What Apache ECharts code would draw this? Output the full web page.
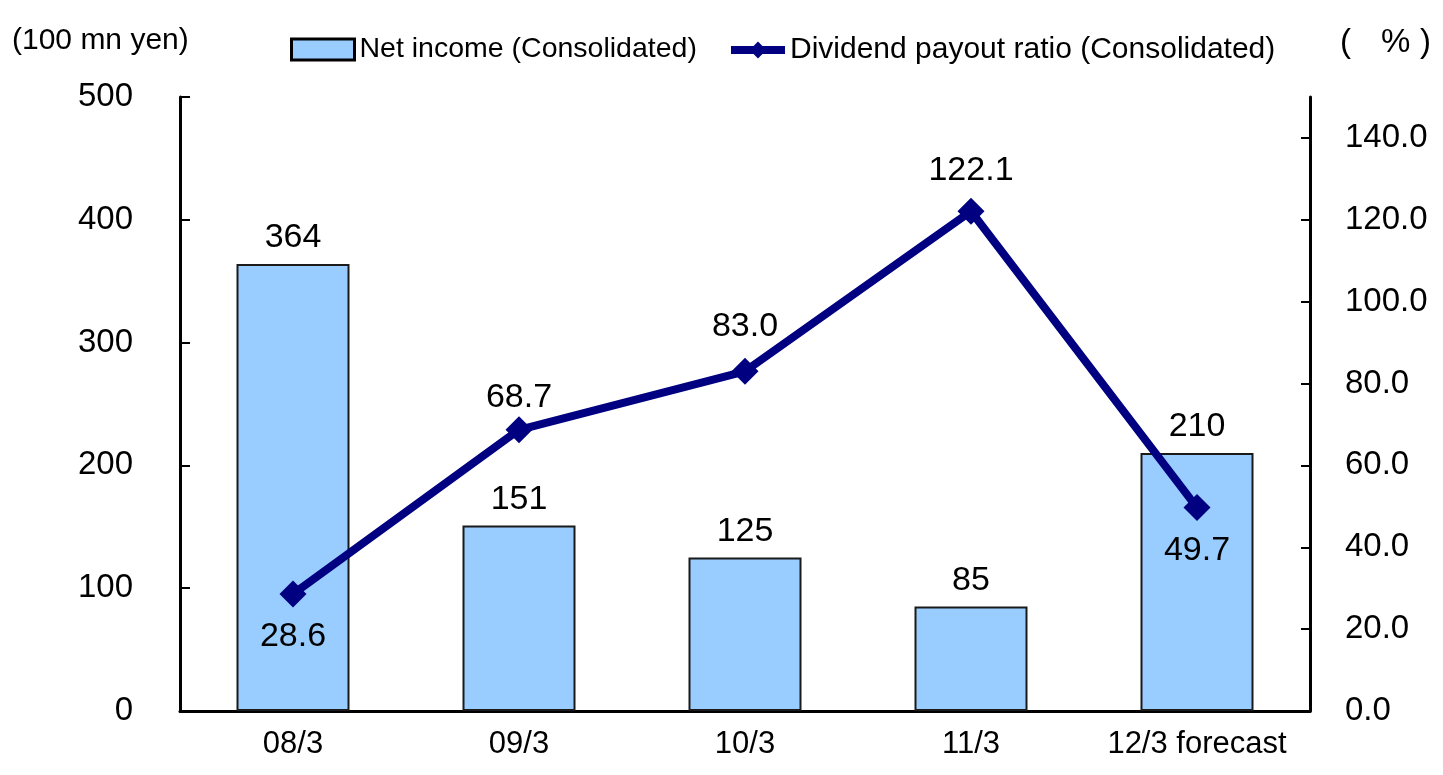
<!DOCTYPE html>
<html>
<head>
<meta charset="utf-8">
<script src="https://cdn.jsdelivr.net/npm/echarts@6/dist/echarts.min.js"></script>
<style>
  html, body { margin: 0; padding: 0; background: #fff; }
  #main { width: 1443px; height: 775px; }
</style>
</head>
<body>
<div id="main"></div>
<script>
// categories (fiscal years)
var years = ['08/3', '09/3', '10/3', '11/3', '12/3 forecast']
// net income, 100 mn yen
var netIncome = [364, 151, 125, 85, 210]
// dividend payout ratio, %
var payoutRatio = [28.6, 68.7, 83.0, 122.1, 49.7]
// right axis tick labels
var ratioTicks = [0, 20, 40, 60, 80, 100, 120, 140]

// label placement for the ratio points
var labelPos = ['bottom', 'top', 'top', 'top', 'bottom']
var labelDist = [12, 2, 14, 10, 13]

var numFont = '"Liberation Sans", Arial, sans-serif'

var myChart = echarts.init(document.getElementById('main'))
myChart.setOption({
  animation: false,
  textStyle: { fontFamily: numFont },
  grid: { left: 180, right: 133, top: 97, bottom: 64 },
  graphic: [
    {
      type: 'text', left: 12, top: 26,
      style: { text: '(100 mn yen)', fontSize: 30, fill: '#000' }
    },
    { type: 'text', left: 1340, top: 26, style: { text: '(', fontSize: 33, fill: '#000' } },
    { type: 'text', left: 1381, top: 26, style: { text: '%', fontSize: 33, fill: '#000' } },
    { type: 'text', left: 1420, top: 26, style: { text: ')', fontSize: 33, fill: '#000' } }
  ],
  legend: [
    {
      left: 285,
      top: 30,
      itemWidth: 63,
      itemHeight: 21,
      textStyle: { fontSize: 28.5, color: '#000' },
      data: [
        { name: 'Net income (Consolidated)', icon: 'rect', itemStyle: { color: '#99CCFF', borderColor: '#000', borderWidth: 3 } }
      ]
    },
    {
      left: 722,
      top: 30,
      itemWidth: 54,
      itemHeight: 21,
      textStyle: { fontSize: 30, color: '#000' },
      data: [
        { name: 'Dividend payout ratio (Consolidated)', lineStyle: { width: 8 } }
      ]
    }
  ],
  xAxis: {
    type: 'category',
    data: years,
    axisLine: { lineStyle: { color: '#000', width: 3 } },
    axisTick: { show: false },
    axisLabel: { fontSize: 31, color: '#000', margin: 18, interval: 0 }
  },
  yAxis: [
    {
      type: 'value',
      min: 0,
      max: 500,
      interval: 100,
      splitLine: { show: false },
      axisLine: { show: true, lineStyle: { color: '#000', width: 3 } },
      axisTick: { show: true, inside: true, length: 10, lineStyle: { color: '#000', width: 2 } },
      axisLabel: { fontSize: 33, color: '#000', margin: 47 }
    },
    {
      type: 'value',
      min: 0,
      max: 150,
      interval: 20,
      splitLine: { show: false },
      axisLine: { show: true, lineStyle: { color: '#000', width: 3 } },
      axisTick: { show: true, inside: true, length: 9, customValues: ratioTicks, lineStyle: { color: '#000', width: 2 } },
      axisLabel: {
        fontSize: 33, color: '#000', margin: 35,
        customValues: ratioTicks,
        formatter: function (v) { return v.toFixed(1) }
      }
    }
  ],
  series: [
    {
      name: 'Net income (Consolidated)',
      type: 'bar',
      barWidth: '50%',
      yAxisIndex: 0,
      itemStyle: { color: '#99CCFF', borderColor: '#1a1a1a', borderWidth: 2 },
      label: { show: true, position: 'top', distance: 9, fontSize: 34, color: '#000' },
      data: netIncome
    },
    {
      name: 'Dividend payout ratio (Consolidated)',
      type: 'line',
      yAxisIndex: 1,
      symbol: 'diamond',
      symbolSize: 27,
      lineStyle: { color: '#000080', width: 8 },
      itemStyle: { color: '#000080' },
      label: {
        show: true, fontSize: 34, color: '#000',
        formatter: function (p) { return p.value.toFixed(1) }
      },
      data: payoutRatio.map(function (v, i) {
        return { value: v, label: { position: labelPos[i], distance: labelDist[i] } }
      })
    }
  ]
})
</script>
</body>
</html>
